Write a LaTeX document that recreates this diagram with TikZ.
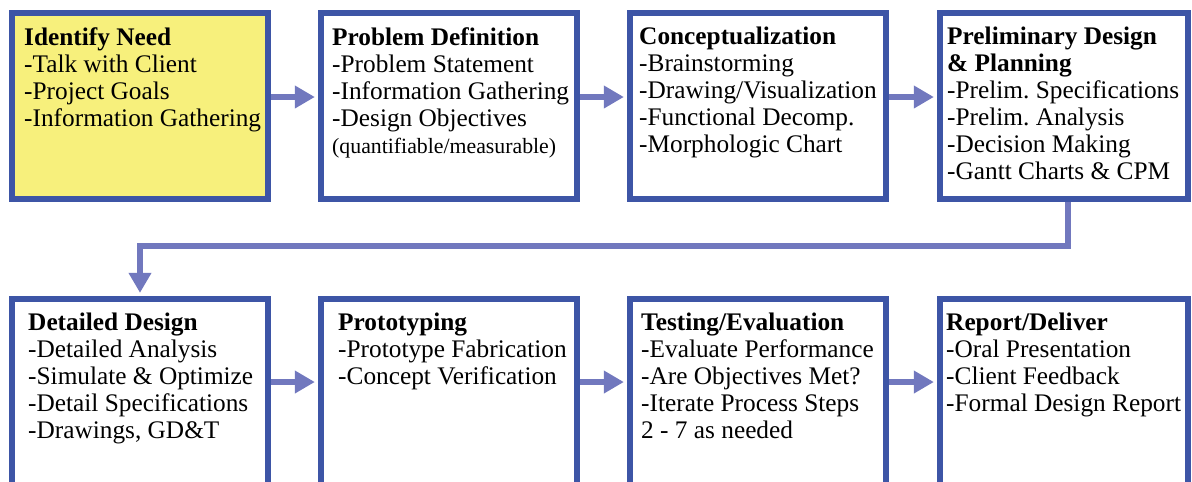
\documentclass[tikz,border=0pt]{standalone}
\usepackage{fontspec}
\setmainfont{Liberation Serif}
\usetikzlibrary{arrows.meta}
\definecolor{stageblue}{HTML}{3D55A6}
\definecolor{flowblue}{HTML}{7178BE}
\definecolor{needyellow}{HTML}{F7F07C}
\frenchspacing
\begin{document}
\begin{tikzpicture}[
    x=0.025cm, y=-0.025cm,
    stage/.style={draw=stageblue, line width=4.3pt, fill=white, inner sep=0,
        minimum width=6.4cm, minimum height=4.65cm},
    txt/.style={anchor=north west, align=left, inner sep=0,
        font=\rmfamily\fontsize{18}{19.2}\selectfont},
    flow/.style={draw=flowblue, line width=4.4pt, shorten >=2.2pt,
        -{Triangle[length=5mm,width=5.4mm]}}
]
    \clip (0,0) rectangle (1192,481);

    \node[stage, fill=needyellow] (need) at (140,106) {};
    \node[stage] (problem) at (449,106) {};
    \node[stage] (concept) at (758,106) {};
    \node[stage, minimum width=6.2cm] (plan) at (1064,106) {};
    \node[stage] (detail) at (140,392) {};
    \node[stage] (proto) at (449,392) {};
    \node[stage] (testing) at (758,392) {};
    \node[stage, minimum width=6.2cm] (report) at (1064,392) {};

    \node[txt] (need-t) at ([shift={(15,17)}]need.north west)
        {\textbf{Identify Need}\\-Talk with Client\\-Project Goals\\-Information Gathering};
    \node[txt] (problem-t) at ([shift={(14,17)}]problem.north west)
        {\textbf{Problem Definition}\\-Problem Statement\\-Information Gathering\\-Design Objectives\\
         {\fontsize{15.5}{19.2}\selectfont(quantifiable/measurable)}};
    \node[txt] (concept-t) at ([shift={(12,17)}]concept.north west)
        {\textbf{Conceptualization}\\-Brainstorming\\-Drawing/Visualization\\-Functional Decomp.\\-Morphologic Chart};
    \node[txt] (plan-t) at ([shift={(10,17)}]plan.north west)
        {\textbf{Preliminary Design}\\\textbf{\& Planning}\\-Prelim. Specifications\\-Prelim. Analysis\\-Decision Making\\-Gantt Charts \& CPM};
    \node[txt] (detail-t) at ([shift={(19,17)}]detail.north west)
        {\textbf{Detailed Design}\\-Detailed Analysis\\-Simulate \& Optimize\\-Detail Specifications\\-Drawings, GD\&T};
    \node[txt] (proto-t) at ([shift={(20,17)}]proto.north west)
        {\textbf{Prototyping}\\-Prototype Fabrication\\-Concept Verification};
    \node[txt] (testing-t) at ([shift={(14,17)}]testing.north west)
        {\textbf{Testing/Evaluation}\\-Evaluate Performance\\-Are Objectives Met?\\-Iterate Process Steps\\2 - 7 as needed};
    \node[txt] (report-t) at ([shift={(9,17)}]report.north west)
        {\textbf{Report/Deliver}\\-Oral Presentation\\-Client Feedback\\-Formal Design Report};

    \draw[flow] ([yshift=6.4pt]need.east) -- ([yshift=6.4pt]problem.west);
    \draw[flow] ([yshift=6.4pt]problem.east) -- ([yshift=6.4pt]concept.west);
    \draw[flow] ([yshift=6.4pt]concept.east) -- ([yshift=6.4pt]plan.west);
    \draw[flow] ([xshift=3pt]plan.south) -- ++(0,44) -| (detail.north);
    \draw[flow] ([yshift=7.1pt]detail.east) -- ([yshift=7.1pt]proto.west);
    \draw[flow] ([yshift=7.1pt]proto.east) -- ([yshift=7.1pt]testing.west);
    \draw[flow] ([yshift=7.1pt]testing.east) -- ([yshift=7.1pt]report.west);
\end{tikzpicture}
\end{document}
